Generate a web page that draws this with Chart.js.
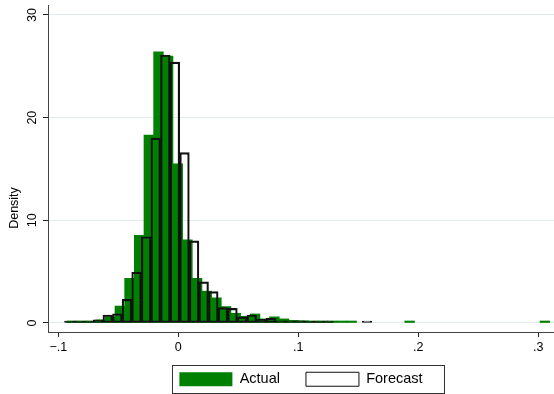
<!DOCTYPE html>
<html>
<head>
<meta charset="utf-8">
<script src="https://cdn.jsdelivr.net/npm/chart.js@4.4.1/dist/chart.umd.min.js"></script>
<style>
  html, body { margin: 0; padding: 0; background: #ffffff; }
  #wrap { width: 554px; height: 394px; }
</style>
</head>
<body>
<div id="wrap"><canvas id="chart" width="554" height="394"></canvas></div>
<script>
// Histogram of actual vs forecast values (density scale)

// Actual: bin centres and densities (non-empty bins only)
const actualBins = [
  -0.08898, -0.08093, -0.07288, -0.06483, -0.05678, -0.04873, -0.04068, -0.03263,
  -0.02458, -0.01653, -0.00848, -0.00043, 0.00763, 0.01568, 0.02373, 0.03178,
  0.03983, 0.04788, 0.05593, 0.06398, 0.07203, 0.08008, 0.08813, 0.09618,
  0.10423, 0.11228, 0.12033, 0.12838, 0.13643, 0.14448, 0.19278, 0.30548
];
const actualDensity = [
  0.05, 0.05, 0.10, 0.30, 0.60, 1.65, 4.35, 8.55,
  18.3, 26.4, 26.0, 15.5, 8.10, 4.35, 3.10, 2.45,
  1.60, 0.95, 0.65, 0.88, 0.40, 0.60, 0.40, 0.25,
  0.22, 0.10, 0.08, 0.05, 0.06, 0.06, 0.03, 0.03
];

// Forecast: bin centres and densities (non-empty bins only)
const forecastBins = [
  -0.09083, -0.08283, -0.07483, -0.06683, -0.05883, -0.05083, -0.04283, -0.03483,
  -0.02683, -0.01883, -0.01083, -0.00283, 0.00517, 0.01317, 0.02117, 0.02917,
  0.03717, 0.04517, 0.05317, 0.06117, 0.06917, 0.07717, 0.08517, 0.09317,
  0.10117, 0.10917, 0.11717, 0.12517, 0.15717
];
const forecastDensity = [
  0.10, 0.10, 0.15, 0.30, 0.78, 0.90, 2.30, 4.95,
  8.40, 18.0, 26.1, 25.4, 16.6, 8.00, 4.00, 3.05,
  1.50, 1.43, 0.60, 0.78, 0.36, 0.46, 0.20, 0.20,
  0.20, 0.08, 0.06, 0.05, 0.03
];

const seriesNames = ['Actual', 'Forecast'];
const xTicks = [-0.1, 0, 0.1, 0.2, 0.3];
const xTickLabels = ['\u2212.1', '0', '.1', '.2', '.3'];
const yTicks = [0, 10, 20, 30];
const yTitle = 'Density';

// Axis extents (plot region reaches slightly past the outer ticks)
const xRange = { min: -0.1086, max: 0.3131 };
const yRange = { min: -0.877, max: 30.97 };

// Layout settings
const FONT = '"Liberation Sans", Arial, Helvetica, sans-serif';
const plotLeft = 48;
const plotBottom = 332;
const legendRowTop = 372;
const legendFrame = { left: 7, right: 22, top: 7.5, bottom: 5.5 };
const yTitlePos = { x: 15, y: 208 };

Chart.defaults.font.family = FONT;
Chart.defaults.color = '#000';

const extras = {
  id: 'extras',
  beforeDraw(chart) {
    const ctx = chart.ctx;
    ctx.save();
    ctx.fillStyle = '#ffffff';
    ctx.fillRect(0, 0, chart.width, chart.height);
    ctx.restore();
  },
  afterLayout(chart) {
    const lg = chart.legend, ca = chart.chartArea;
    // let the x-axis labels use the space down to the canvas edge
    const xs = chart.scales.x;
    xs.bottom = chart.height;
    xs.height = xs.bottom - xs.top;
    // centre the legend under the plot region
    if (!lg) return;
    const pad = lg.options.labels.padding;
    lg.left = ca.left;
    lg.right = ca.right;
    lg.width = ca.right - ca.left;
    const h = lg.height;
    lg.top = legendRowTop - pad;
    lg.bottom = lg.top + h;
  },
  afterDraw(chart) {
    const ctx = chart.ctx;
    // legend frame
    const hb = chart.legend && chart.legend.legendHitBoxes;
    if (hb && hb.length) {
      const x0 = Math.min(...hb.map(b => b.left)) - legendFrame.left;
      const x1 = Math.max(...hb.map(b => b.left + b.width)) + legendFrame.right;
      const y0 = Math.min(...hb.map(b => b.top)) - legendFrame.top;
      const y1 = Math.max(...hb.map(b => b.top + b.height)) + legendFrame.bottom;
      ctx.save();
      ctx.strokeStyle = '#333';
      ctx.lineWidth = 1;
      ctx.strokeRect(Math.round(x0) + 0.5, Math.round(y0) + 0.5, Math.round(x1 - x0), Math.round(y1 - y0));
      ctx.restore();
    }
    // y-axis title
    ctx.save();
    ctx.translate(yTitlePos.x, yTitlePos.y);
    ctx.rotate(-Math.PI / 2);
    ctx.textAlign = 'center';
    ctx.textBaseline = 'middle';
    ctx.fillStyle = '#000';
    ctx.font = '12.5px ' + FONT;
    ctx.fillText(yTitle, 0, 0);
    ctx.restore();
  }
};

const baseLegendLabels = Chart.defaults.plugins.legend.labels.generateLabels;

new Chart(document.getElementById('chart'), {
  type: 'bar',
  data: {
    datasets: [
      {
        label: seriesNames[0],
        data: actualBins.map((x, i) => ({ x, y: actualDensity[i] })),
        xAxisID: 'x',
        yAxisID: 'y',
        backgroundColor: '#008000',
        borderColor: '#008000',
        borderWidth: 0,
        order: 1
      },
      {
        label: seriesNames[1],
        data: forecastBins.map((x, i) => ({ x, y: forecastDensity[i] })),
        xAxisID: 'x2',
        yAxisID: 'y',
        backgroundColor: 'rgba(255,255,255,0)',
        borderColor: '#111111',
        borderWidth: 1.5,
        borderSkipped: false,
        order: 0
      }
    ]
  },
  options: {
    responsive: false,
    animation: false,
    devicePixelRatio: 1,
    layout: { padding: { top: 5, left: 0, right: 0, bottom: 0 } },
    datasets: {
      bar: { barPercentage: 1, categoryPercentage: 1, grouped: false, minBarLength: 2 }
    },
    scales: {
      x: {
        type: 'linear',
        position: 'bottom',
        min: xRange.min,
        max: xRange.max,
        offset: false,
        afterBuildTicks: s => { s.ticks = xTicks.map(v => ({ value: v })); },
        afterFit: s => {
          const lg = s.chart.legend;
          s.height = Math.max(0, s.chart.height - plotBottom - (lg ? lg.height : 0));
          s.paddingLeft = 0;
          s.paddingRight = 0;
        },
        ticks: {
          autoSkip: false,
          maxRotation: 0,
          padding: 3,
          font: { size: 12.5 },
          color: '#000',
          callback: v => xTickLabels[xTicks.indexOf(v)]
        },
        grid: { offset: false, drawOnChartArea: false, tickLength: 5, tickColor: '#222', tickWidth: 1 },
        border: { display: true, color: '#444', width: 1 }
      },
      x2: {
        type: 'linear',
        min: xRange.min,
        max: xRange.max,
        offset: false,
        display: false,
        grid: { offset: false }
      },
      y: {
        type: 'linear',
        position: 'left',
        min: yRange.min,
        max: yRange.max,
        afterBuildTicks: s => { s.ticks = yTicks.map(v => ({ value: v })); },
        afterFit: s => {
          s.width = plotLeft;
          s.paddingTop = 0;
          s.paddingBottom = 0;
        },
        ticks: {
          minRotation: 90,
          maxRotation: 90,
          crossAlign: 'center',
          padding: 4,
          font: { size: 12.5 },
          color: '#000',
          callback: v => String(v)
        },
        grid: { color: '#e1eaec', lineWidth: 1, tickLength: 5, tickColor: '#222', tickWidth: 1 },
        border: { display: true, color: '#444', width: 1 }
      }
    },
    plugins: {
      tooltip: { enabled: false },
      legend: {
        position: 'bottom',
        labels: {
          boxWidth: 53,
          boxHeight: 14,
          padding: 26,
          color: '#000',
          font: { size: 14.5 },
          sort: (a, b) => a.datasetIndex - b.datasetIndex,
          generateLabels: chart => baseLegendLabels(chart).map(it => {
            it.lineWidth = it.datasetIndex === 1 ? 1 : 0;
            return it;
          })
        }
      }
    }
  },
  plugins: [extras]
});
</script>
</body>
</html>
